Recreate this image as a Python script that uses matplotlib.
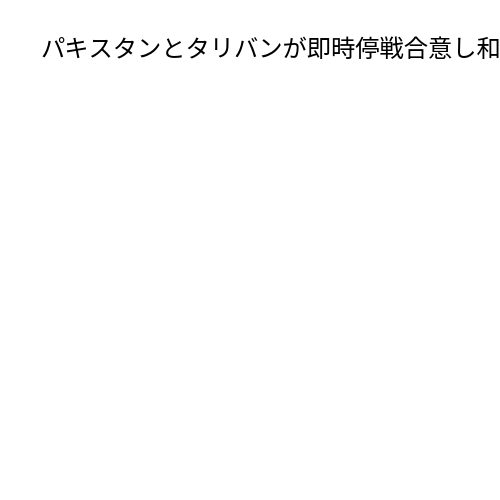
import matplotlib
matplotlib.use("Agg")
from matplotlib import pyplot as plt

plt.rcParams['font.family'] = ['Noto Sans CJK JP', 'DejaVu Sans']

title = "パキスタンとタリバンが即時停戦合意し和平協議へ"

fig = plt.figure(figsize=(5, 5), dpi=100)
fig.patch.set_facecolor("white")
# title runs past the right edge, as in the reference
fig.text(40 / 500, 1 - 50 / 500, title, ha="left", va="center",
         fontsize=17.5, color="black")
fig.savefig("out.png", dpi=100, facecolor="white")
